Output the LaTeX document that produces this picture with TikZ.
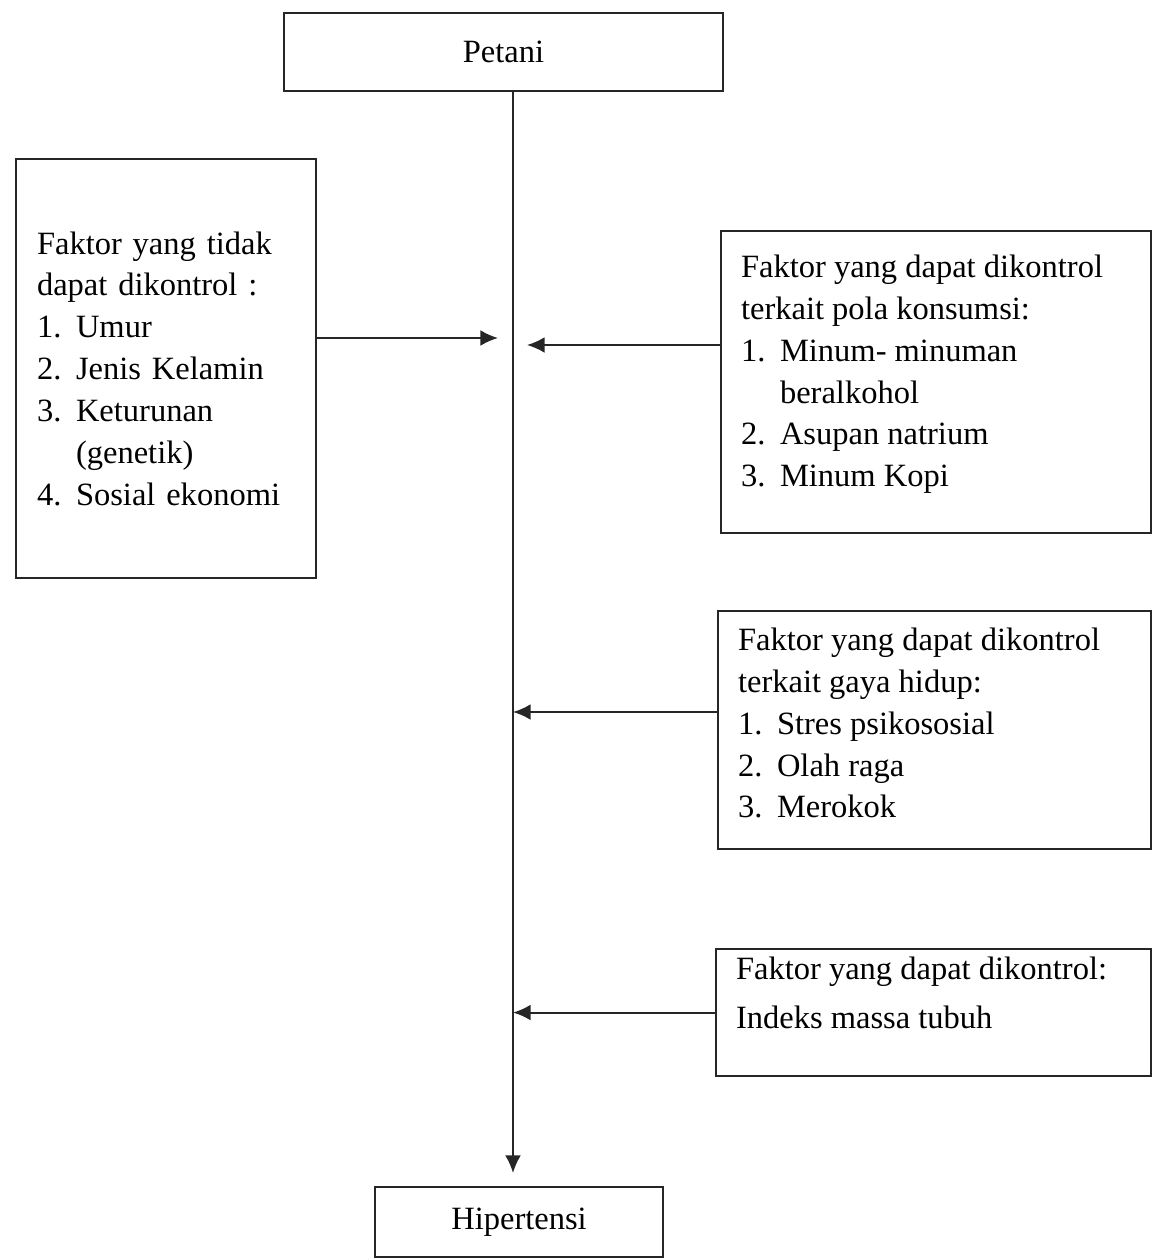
\documentclass[tikz,border=0pt]{standalone}
\usepackage{fontspec}
\setmainfont{Liberation Serif}
\usetikzlibrary{arrows.meta}
\newcommand\Butir[2]{\makebox[0.78cm][l]{#1}#2}
\newcommand\Sambung[1]{\hspace*{0.78cm}#1}
\newcommand\Isi[3]{\parbox[c][#2][t]{#1}{\raggedright #3}}
\tikzset{
  kotak/.style={draw=black!85,line width=1.2pt,rectangle,anchor=north west,inner xsep=0.42cm,
    align=left,font=\fontsize{18.5}{23.8}\selectfont},
  panah/.style={draw=black!85,line width=1.2pt,-{Latex[length=10pt,width=9pt]}}
}
\begin{document}
\begin{tikzpicture}[x=0.02cm,y=-0.02cm]
\useasboundingbox (0,0) rectangle (1152,1258);
\node[kotak,minimum width=8.78cm,minimum height=1.56cm] (petani) at (283,12) {Petani};
\node[kotak,text width=5.16cm,minimum height=8.38cm] (kiri) at (15,158)
  {Faktor yang tidak\\ dapat dikontrol :\\ \Butir{1.}{Umur}\\ \Butir{2.}{Jenis Kelamin}\\
   \Butir{3.}{Keturunan}\\ \Sambung{(genetik)}\\ \Butir{4.}{Sosial ekonomi}};
\node[kotak,inner xsep=0.4cm,inner ysep=0.48cm] (kanan1) at (720,230)
  {\Isi{7.8cm}{5.08cm}{Faktor yang dapat dikontrol\\ terkait pola konsumsi:\\ \Butir{1.}{Minum- minuman}\\
   \Sambung{beralkohol}\\ \Butir{2.}{Asupan natrium}\\ \Butir{3.}{Minum Kopi}}};
\node[kotak,inner xsep=0.4cm,inner ysep=0.34cm] (kanan2) at (717,610)
  {\Isi{7.86cm}{4.08cm}{Faktor yang dapat dikontrol\\ terkait gaya hidup:\\ \Butir{1.}{Stres psikososial}\\
   \Butir{2.}{Olah raga}\\ \Butir{3.}{Merokok}}};
\node[kotak,inner xsep=0.4cm,inner ysep=0.16cm] (kanan3) at (715,948)
  {\Isi{7.9cm}{2.22cm}{Faktor yang dapat dikontrol:\\[0.14cm] Indeks massa tubuh}};
\node[kotak,minimum width=5.76cm,minimum height=1.4cm] (hipertensi) at (374,1186) {Hipertensi};

\coordinate (poros) at (513,0);
\coordinate (ujungkiri) at (498,338);
\coordinate (ujungkanan) at (527,345);
\coordinate (ujung2) at (513,712);
\draw[panah,shorten >=0.26cm] (petani.south -| poros) -- (hipertensi.north -| poros);
\draw[panah] (kiri.east |- ujungkiri) -- (ujungkiri);
\draw[panah] (kanan1.west |- ujungkanan) -- (ujungkanan);
\draw[panah] (kanan2.west |- ujung2) -- (ujung2);
\draw[panah] (kanan3.west) -- (kanan3.west -| poros);
\end{tikzpicture}
\end{document}
